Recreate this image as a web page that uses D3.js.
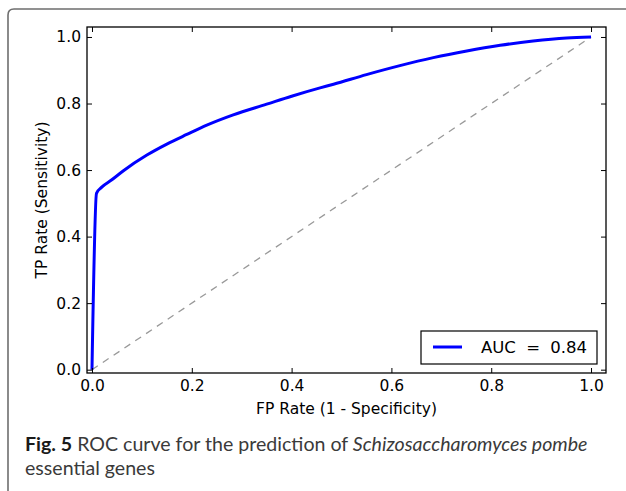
<!DOCTYPE html>
<html><head><meta charset="utf-8">
<script src="https://cdn.jsdelivr.net/npm/d3@7"></script>
<style>body{margin:0;background:#fff}svg{display:block}</style>
</head><body>
<svg id="c" width="626" height="491"></svg>
<script>
// ROC curve points
const fpr = [0.0, 0.009, 0.019, 0.039, 0.063, 0.11, 0.15, 0.19, 0.23, 0.283, 0.35, 0.40, 0.457, 0.484, 0.55, 0.617, 0.684, 0.751, 0.818, 0.884, 0.951, 1.0];
const tpr = [0.0, 0.530, 0.548, 0.570, 0.598, 0.645, 0.678, 0.707, 0.735, 0.766, 0.798, 0.822, 0.847, 0.858, 0.887, 0.914, 0.938, 0.958, 0.975, 0.988, 0.997, 1.0];
const chanceX = [0, 1];
const chanceY = [0, 1];
const ticks = [0.0, 0.2, 0.4, 0.6, 0.8, 1.0];
const legendLabel = "AUC = 0.84";
const xLabel = "FP Rate (1 - Specificity)";
const yLabel = "TP Rate (Sensitivity)";

const svg = d3.select("#c");
const L = 87, R = 606, T = 27, B = 373;
const x = d3.scaleLinear().domain([-0.01, 1.03]).range([L, R]);
const y = d3.scaleLinear().domain([-0.01, 1.03]).range([B, T]);
const tickFont = "DejaVu Sans";
const fsz = "15.5px";

// outer frame (open to right and bottom)
svg.append("path")
  .attr("d", "M8,491 L8,15 Q8,9 14,9 L626,9")
  .attr("fill", "none").attr("stroke", "#6e6e6e").attr("stroke-width", 1.6);

// diagonal
svg.append("line")
  .attr("x1", x(chanceX[0])).attr("y1", y(chanceY[0]))
  .attr("x2", x(chanceX[1])).attr("y2", y(chanceY[1]))
  .attr("stroke", "#999").attr("stroke-width", 1.3).attr("stroke-dasharray", "7,6");

// ROC curve
const pts = fpr.map((v, i) => [v, tpr[i]]);
svg.append("path")
  .datum(pts)
  .attr("d", d3.line().x(d => x(d[0])).y(d => y(d[1])).curve(d3.curveMonotoneX))
  .attr("fill", "none").attr("stroke", "#0000ff").attr("stroke-width", 3)
  .attr("stroke-linejoin", "round");

// axes with inward ticks on all sides
function styleAxis(g) {
  g.selectAll(".domain").remove();
  g.selectAll("line").attr("stroke", "#000").attr("stroke-width", 1);
  g.selectAll("text").attr("font-family", tickFont).attr("font-size", fsz).attr("fill", "#000");
}
svg.append("g").attr("transform", `translate(0,${B})`)
  .call(d3.axisBottom(x).tickValues(ticks).tickFormat(d3.format(".1f")).tickSizeInner(-5).tickSizeOuter(0).tickPadding(7))
  .call(styleAxis);
svg.append("g").attr("transform", `translate(0,${T})`)
  .call(d3.axisTop(x).tickValues(ticks).tickFormat("").tickSizeInner(-5).tickSizeOuter(0))
  .call(styleAxis);
svg.append("g").attr("transform", `translate(${L},0)`)
  .call(d3.axisLeft(y).tickValues(ticks).tickFormat(d3.format(".1f")).tickSizeInner(-5).tickSizeOuter(0).tickPadding(6))
  .call(styleAxis);
svg.append("g").attr("transform", `translate(${R},0)`)
  .call(d3.axisRight(y).tickValues(ticks).tickFormat("").tickSizeInner(-5).tickSizeOuter(0))
  .call(styleAxis);

// spines
svg.append("rect").attr("x", L).attr("y", T).attr("width", R - L).attr("height", B - T)
  .attr("fill", "none").attr("stroke", "#000").attr("stroke-width", 1.3);

// axis labels
svg.append("text").attr("x", (L + R) / 2).attr("y", 414).attr("text-anchor", "middle")
  .attr("font-family", tickFont).attr("font-size", fsz).text(xLabel);
svg.append("text").attr("transform", `translate(47,${(T + B) / 2}) rotate(-90)`).attr("text-anchor", "middle")
  .attr("font-family", tickFont).attr("font-size", fsz).text(yLabel);

// legend
const lg = svg.append("g");
lg.append("rect").attr("x", 421).attr("y", 331).attr("width", 176).attr("height", 33)
  .attr("fill", "#fff").attr("stroke", "#000").attr("stroke-width", 1.2);
lg.append("line").attr("x1", 433).attr("x2", 462).attr("y1", 347).attr("y2", 347)
  .attr("stroke", "#0000ff").attr("stroke-width", 3);
lg.append("text").attr("x", 481).attr("y", 353).attr("font-family", tickFont).attr("font-size", "16.5px")
  .attr("word-spacing", "5px").text(legendLabel);

// caption
const capFont = "Lato";
const cap1 = svg.append("text").attr("x", 25).attr("y", 451).attr("font-family", capFont).attr("fill", "#3a3a3a").attr("font-size", "16px");
cap1.append("tspan").attr("font-weight", "bold").attr("fill", "#1a1a1a").text("Fig. 5");
cap1.append("tspan").text(" ROC curve for the prediction of ");
cap1.append("tspan").attr("font-style", "italic").text("Schizosaccharomyces pombe");
const w1 = cap1.node().getComputedTextLength();
const fs = 16 * 563 / w1;
cap1.attr("font-size", fs + "px");
svg.append("text").attr("x", 25).attr("y", 475).attr("font-family", capFont).attr("fill", "#3a3a3a")
  .attr("font-size", fs + "px").text("essential genes");
</script>
</body></html>
